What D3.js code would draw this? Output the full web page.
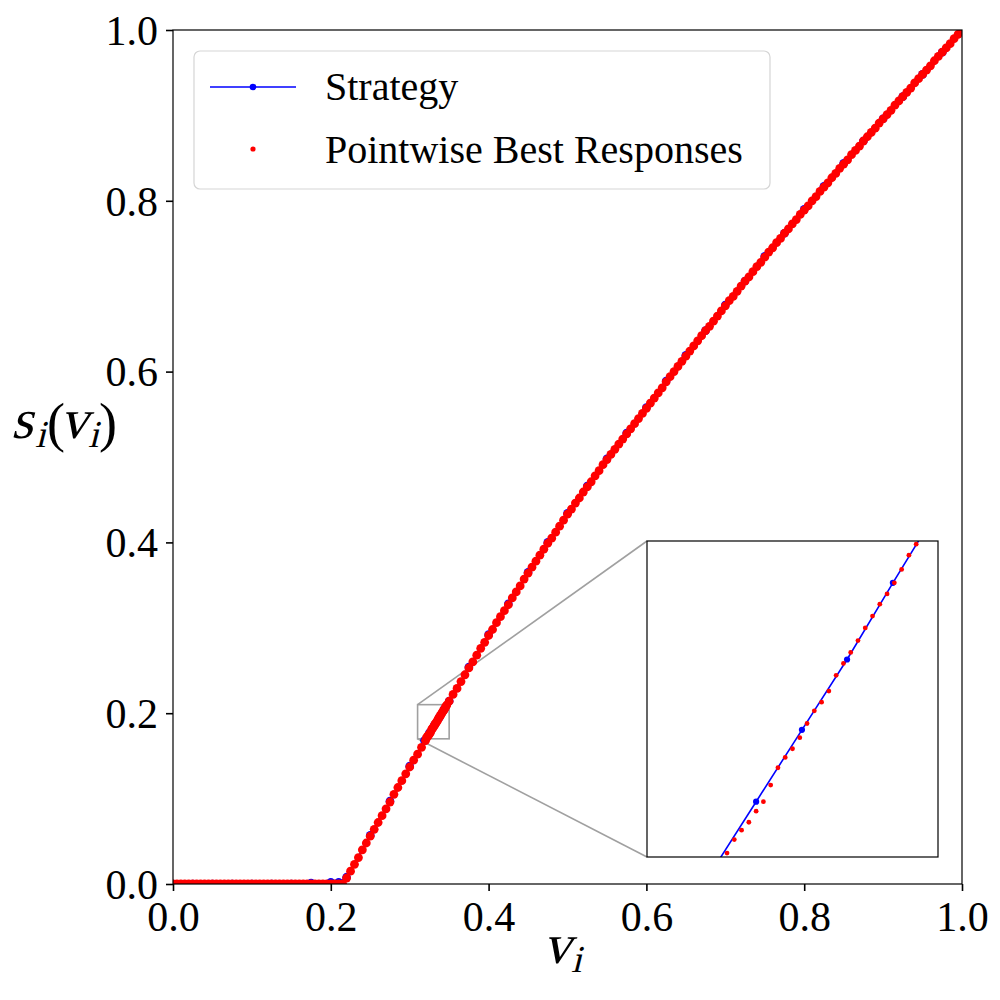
<!DOCTYPE html>
<html>
<head>
<meta charset="utf-8">
<script src="https://cdn.jsdelivr.net/npm/d3@7"></script>
<style>
  body { margin: 0; background: #fff; }
  text { font-family: "Liberation Serif", "DejaVu Serif", serif; }
</style>
</head>
<body>
<svg id="chart" width="1000" height="1000"></svg>
<script>
// strategy (blue line with markers)
const stratV = [0, 0.025, 0.05, 0.075, 0.1, 0.125, 0.15, 0.175, 0.2, 0.21, 0.22, 0.25, 0.275, 0.3,
  0.3187, 0.3250, 0.3313, 0.3375, 0.3438, 0.3501, 0.375, 0.4, 0.425, 0.45, 0.475, 0.5, 0.525, 0.55,
  0.575, 0.6, 0.625, 0.65, 0.675, 0.7, 0.725, 0.75, 0.775, 0.8, 0.825, 0.85, 0.875, 0.9, 0.925,
  0.95, 0.975, 1.0];
const stratS = [0, 0, 0, 0, 0, 0, 0, 0.001, 0.002, 0.002, 0.008, 0.057, 0.097, 0.138,
  0.1679, 0.1770, 0.1861, 0.1950, 0.2047, 0.2142, 0.254, 0.292, 0.328, 0.365, 0.400, 0.434, 0.466, 0.498,
  0.528, 0.558, 0.589, 0.619, 0.648, 0.678, 0.706, 0.735, 0.762, 0.790, 0.817, 0.844, 0.870, 0.896, 0.922,
  0.948, 0.974, 1.0];

// pointwise best responses, v = 0, 0.005, ..., 1.0
const brS = [
  0, 0, 0, 0, 0, 0, 0, 0, 0, 0, 0, 0, 0, 0, 0, 0, 0, 0, 0, 0, 0, 0,
  0, 0, 0, 0, 0, 0, 0, 0, 0, 0, 0, 0, 0, 0, 0, 0, 0, 0, 0, 0, 0, 0,
  0.007, 0.015, 0.023, 0.031, 0.040, 0.048, 0.056,
  0.064, 0.072, 0.080, 0.088, 0.096, 0.105, 0.113, 0.121, 0.129, 0.137,
  0.145, 0.152, 0.160, 0.168, 0.176, 0.184, 0.191, 0.199, 0.206, 0.214,
  0.222, 0.229, 0.237, 0.245, 0.253, 0.260, 0.268, 0.276, 0.283, 0.291,
  0.298, 0.306, 0.313, 0.320, 0.327, 0.335, 0.342, 0.349, 0.357, 0.364,
  0.371, 0.378, 0.385, 0.392, 0.399, 0.405, 0.412, 0.419, 0.426, 0.433,
  0.439, 0.446, 0.452, 0.459, 0.465, 0.471, 0.478, 0.484, 0.491, 0.497,
  0.503, 0.509, 0.515, 0.521, 0.527, 0.533, 0.539, 0.545, 0.551, 0.557,
  0.563, 0.569, 0.575, 0.581, 0.588, 0.594, 0.600, 0.606, 0.612, 0.618,
  0.624, 0.630, 0.636, 0.642, 0.648, 0.653, 0.659, 0.665, 0.671, 0.677,
  0.683, 0.688, 0.694, 0.700, 0.706, 0.711, 0.717, 0.723, 0.728, 0.734,
  0.740, 0.745, 0.751, 0.756, 0.762, 0.767, 0.773, 0.778, 0.784, 0.789,
  0.794, 0.800, 0.805, 0.811, 0.816, 0.821, 0.827, 0.832, 0.838, 0.843,
  0.848, 0.854, 0.859, 0.864, 0.870, 0.875, 0.880, 0.885, 0.891, 0.896,
  0.901, 0.906, 0.912, 0.917, 0.922, 0.927, 0.932, 0.938, 0.943, 0.948,
  0.953, 0.958, 0.964, 0.969, 0.974, 0.979, 0.984, 0.990, 0.995, 1.000
];
// finer best responses
const brFineV = [0.321, 0.322, 0.323, 0.324, 0.325, 0.326, 0.327, 0.328, 0.329, 0.330, 0.331,
  0.332, 0.333, 0.334, 0.335, 0.336, 0.337, 0.338, 0.339, 0.340, 0.341, 0.342, 0.343, 0.344,
  0.345, 0.346, 0.347];
const brFineS = [0.1705, 0.1722, 0.1734, 0.1744, 0.1758, 0.1770, 0.1791, 0.1813, 0.1826, 0.1837,
  0.1851, 0.1869, 0.1885, 0.1896, 0.1910, 0.1930, 0.1945, 0.1959, 0.1974, 0.1990, 0.2005, 0.2020,
  0.2033, 0.2047, 0.2064, 0.2082, 0.2096];

const ticks = [0, 0.2, 0.4, 0.6, 0.8, 1.0];
const insetX = [0.31, 0.35], insetY = [0.17, 0.21];

const strat = stratV.map((v, i) => ({ v: v, s: stratS[i] }));
const brCoarse = brS.map((s, i) => ({ v: i / 200, s: s }))
  .filter(d => d.v < 0.3205 || d.v > 0.3475);
const br = brCoarse.concat(brFineV.map((v, i) => ({ v: v, s: brFineS[i] })))
  .sort((a, b) => a.v - b.v);

const svg = d3.select("#chart");
const L = 173, R = 962, T = 30, B = 884;
const x = d3.scaleLinear().domain([0, 1]).range([L, R]);
const y = d3.scaleLinear().domain([0, 1]).range([B, T]);

const defs = svg.append("defs");
defs.append("clipPath").attr("id", "clipMain")
  .append("rect").attr("x", L).attr("y", T).attr("width", R - L).attr("height", B - T);

// zoom marker + connectors (under data)
const gray = "#a0a0a0";
svg.append("rect")
  .attr("x", x(insetX[0])).attr("y", y(insetY[1]))
  .attr("width", x(insetX[1]) - x(insetX[0])).attr("height", y(insetY[0]) - y(insetY[1]))
  .attr("fill", "none").attr("stroke", gray).attr("stroke-width", 1.6);

const IL = 647, IR = 938, IT = 541, IB = 857;
svg.append("line").attr("x1", x(insetX[0])).attr("y1", y(insetY[1])).attr("x2", IL).attr("y2", IT)
  .attr("stroke", gray).attr("stroke-width", 1.6);
svg.append("line").attr("x1", x(insetX[0])).attr("y1", y(insetY[0])).attr("x2", IL).attr("y2", IB)
  .attr("stroke", gray).attr("stroke-width", 1.6);

// main data
const main = svg.append("g").attr("clip-path", "url(#clipMain)");
const line = d3.line().x(d => x(d.v)).y(d => y(d.s));
main.append("path").datum(strat).attr("d", line)
  .attr("fill", "none").attr("stroke", "blue").attr("stroke-width", 1.5);
main.selectAll(".sm").data(strat).enter().append("circle")
  .attr("cx", d => x(d.v)).attr("cy", d => y(d.s)).attr("r", 4.3).attr("fill", "blue");
main.selectAll(".br").data(br).enter().append("circle")
  .attr("cx", d => x(d.v)).attr("cy", d => y(d.s)).attr("r", 4.4).attr("fill", "red");

// frame
svg.append("rect").attr("x", L).attr("y", T).attr("width", R - L).attr("height", B - T)
  .attr("fill", "none").attr("stroke", "black").attr("stroke-width", 1.2);

// axes
const xAxis = svg.append("g").attr("transform", `translate(0,${B})`)
  .call(d3.axisBottom(x).tickValues(ticks).tickFormat(d3.format(".1f")).tickSize(7).tickPadding(7));
const yAxis = svg.append("g").attr("transform", `translate(${L},0)`)
  .call(d3.axisLeft(y).tickValues(ticks).tickFormat(d3.format(".1f")).tickSize(7).tickPadding(8));
[xAxis, yAxis].forEach(a => {
  a.select(".domain").remove();
  a.selectAll("line").attr("stroke", "black").attr("stroke-width", 1.6);
  a.selectAll("text").attr("font-size", 42).attr("fill", "black")
    .style("font-family", "'Liberation Serif', serif");
});
xAxis.selectAll("text").attr("dy", "0.78em");
yAxis.selectAll("text").attr("dy", "0.34em");

// axis labels: slanted serif glyphs for the math italic look
function glyph(g, str, gx, gy, size, slant) {
  g.append("text")
    .attr("transform", `translate(${gx},${gy})` + (slant ? " skewX(-14)" : ""))
    .attr("font-size", size).text(str);
}
const xl = svg.append("g");
glyph(xl, "v", 543, 963, 56, true);
glyph(xl, "i", 571, 972, 38, true);

const yl = svg.append("g");
glyph(yl, "s", 11, 438, 56, true);
glyph(yl, "i", 35, 447, 38, true);
glyph(yl, "(", 47, 441, 54, false);
glyph(yl, "v", 60, 438, 56, true);
glyph(yl, "i", 88, 447, 38, true);
glyph(yl, ")", 99, 441, 54, false);

// inset
const xi = d3.scaleLinear().domain(insetX).range([IL, IR]);
const yi = d3.scaleLinear().domain(insetY).range([IB, IT]);
defs.append("clipPath").attr("id", "clipInset")
  .append("rect").attr("x", IL).attr("y", IT).attr("width", IR - IL).attr("height", IB - IT);
svg.append("rect").attr("x", IL).attr("y", IT).attr("width", IR - IL).attr("height", IB - IT)
  .attr("fill", "white");
const ins = svg.append("g").attr("clip-path", "url(#clipInset)");
const lineI = d3.line().x(d => xi(d.v)).y(d => yi(d.s));
ins.append("path").datum(strat).attr("d", lineI)
  .attr("fill", "none").attr("stroke", "blue").attr("stroke-width", 1.6);
ins.selectAll(".smi").data(strat).enter().append("circle")
  .attr("cx", d => xi(d.v)).attr("cy", d => yi(d.s)).attr("r", 3.1).attr("fill", "blue");
ins.selectAll(".bri").data(br).enter().append("circle")
  .attr("cx", d => xi(d.v)).attr("cy", d => yi(d.s)).attr("r", 2.4).attr("fill", "red");
svg.append("rect").attr("x", IL).attr("y", IT).attr("width", IR - IL).attr("height", IB - IT)
  .attr("fill", "none").attr("stroke", "black").attr("stroke-width", 1.2);

// legend
const lg = svg.append("g");
lg.append("rect").attr("x", 194).attr("y", 51).attr("width", 576).attr("height", 138)
  .attr("rx", 6).attr("fill", "white").attr("fill-opacity", 0.8)
  .attr("stroke", "#d5d5d5").attr("stroke-width", 1.2);
lg.append("line").attr("x1", 210).attr("x2", 296).attr("y1", 87).attr("y2", 87)
  .attr("stroke", "blue").attr("stroke-width", 1.6);
lg.append("circle").attr("cx", 253).attr("cy", 87).attr("r", 3.3).attr("fill", "blue");
lg.append("circle").attr("cx", 253).attr("cy", 149).attr("r", 2.6).attr("fill", "red");
lg.append("text").attr("x", 325).attr("y", 100).attr("font-size", 40).text("Strategy");
lg.append("text").attr("x", 325).attr("y", 163).attr("font-size", 40).text("Pointwise Best Responses");
</script>
</body>
</html>
